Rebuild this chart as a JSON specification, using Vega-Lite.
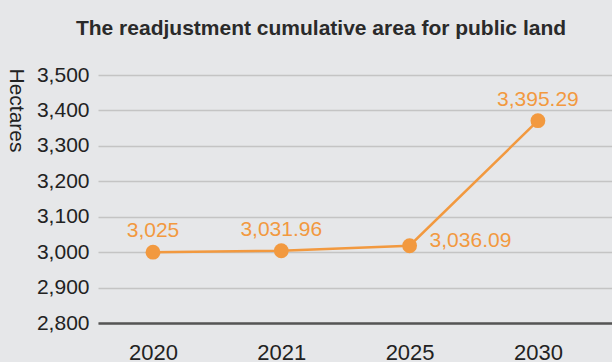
{
  "$schema": "https://vega.github.io/schema/vega-lite/v6.json",
  "autosize": {"type": "none"},
  "width": 514,
  "height": 248,
  "padding": {"left": 98, "top": 75, "right": 0, "bottom": 39},
  "background": "#e6e7e9",
  "config": {
    "view": {"stroke": null},
    "font": "Liberation Sans"
  },
  "title": {
    "text": "The readjustment cumulative area for public land",
    "fontSize": 21,
    "fontWeight": "bold",
    "color": "#2a2a2a",
    "anchor": "middle",
    "dx": -34,
    "offset": 25
  },
  "data": {
    "values": [
      {"year": "2020", "value": 3000, "label": "3,025"},
      {"year": "2021", "value": 3004, "label": "3,031.96"},
      {"year": "2025", "value": 3018, "label": "3,036.09"},
      {"year": "2030", "value": 3371, "label": "3,395.29"}
    ]
  },
  "encoding": {
    "x": {
      "field": "year",
      "type": "ordinal",
      "scale": {"type": "point", "padding": 0.503, "align": 0.426},
      "axis": {
        "title": null,
        "labelAngle": 0,
        "labelFontSize": 22,
        "labelColor": "#222222",
        "labelPadding": 19,
        "ticks": false,
        "domainColor": "#555555",
        "domainWidth": 2.5,
        "grid": false
      }
    },
    "y": {
      "field": "value",
      "type": "quantitative",
      "scale": {"domain": [2800, 3500], "nice": false, "zero": false},
      "axis": {
        "title": "Hectares",
        "titleAngle": 90,
        "titleAlign": "left",
        "titleBaseline": "middle",
        "titleX": -83,
        "titleY": -7,
        "titleFontSize": 21,
        "titleFontWeight": "normal",
        "titleColor": "#222222",
        "values": [2800, 2900, 3000, 3100, 3200, 3300, 3400, 3500],
        "format": ",.0f",
        "labelFontSize": 21,
        "labelColor": "#222222",
        "labelPadding": 9,
        "ticks": false,
        "domain": false,
        "grid": true,
        "gridColor": "#c4c4c4",
        "gridWidth": 1.5
      }
    }
  },
  "layer": [
    {"mark": {"type": "line", "color": "#f2993f", "strokeWidth": 2.5}},
    {"mark": {"type": "point", "filled": true, "opacity": 1, "color": "#f2993f", "size": 220}},
    {
      "transform": [{"filter": "datum.year != '2025'"}],
      "mark": {"type": "text", "color": "#f2993f", "fontSize": 21, "dy": -21, "baseline": "middle"},
      "encoding": {"text": {"field": "label"}}
    },
    {
      "transform": [{"filter": "datum.year == '2025'"}],
      "mark": {"type": "text", "color": "#f2993f", "fontSize": 21, "dx": 20, "dy": -5, "align": "left", "baseline": "middle"},
      "encoding": {"text": {"field": "label"}}
    }
  ]
}
